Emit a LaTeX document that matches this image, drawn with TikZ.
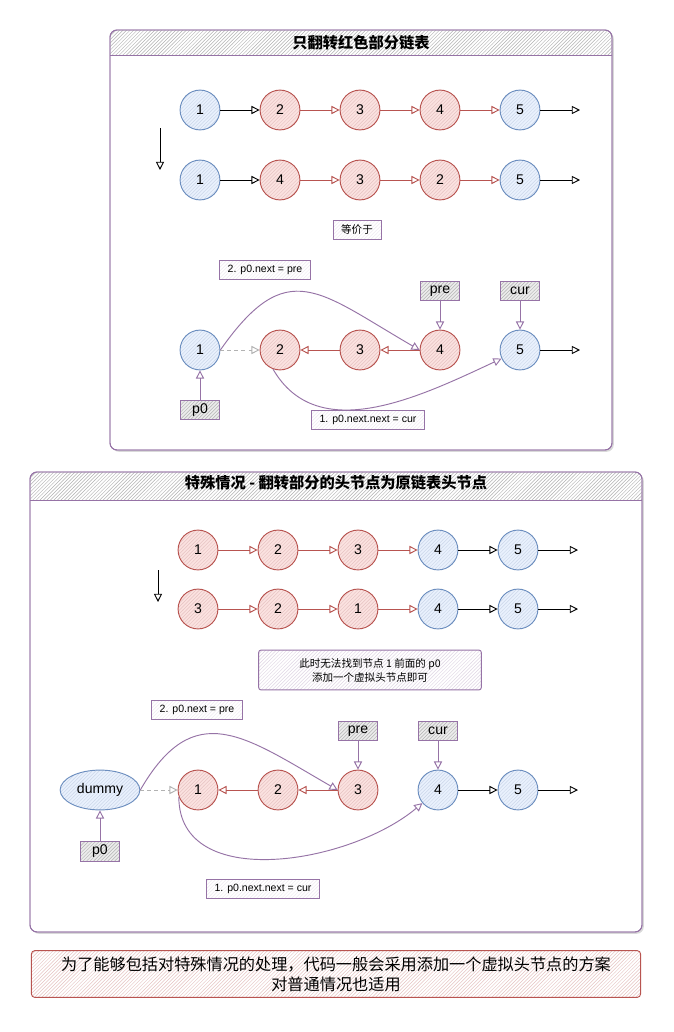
\documentclass[tikz,border=0pt]{standalone}
\usepackage{fontspec}
\setmainfont{Liberation Sans}
\newfontfamily\cjk{Noto Sans CJK SC}
\usetikzlibrary{arrows.meta,patterns,shadows,shapes.geometric}

\definecolor{bluefill}{HTML}{DAE8FC}
\definecolor{blueline}{HTML}{6C8EBF}
\definecolor{redfill}{HTML}{F8CECC}
\definecolor{redline}{HTML}{B85450}
\definecolor{purpleline}{HTML}{9673A6}

\tikzset{
  bnode/.style={circle,thick,draw=blueline,preaction={fill=bluefill!60},minimum size=34pt,inner sep=0pt,
    font=\fontsize{12}{14}\selectfont,pattern=north east lines,pattern color=blueline!35},
  rnode/.style={circle,thick,draw=redline,preaction={fill=redfill!60},minimum size=34pt,inner sep=0pt,
    font=\fontsize{12}{14}\selectfont,pattern=north east lines,pattern color=redline!35},
  tag/.style={rectangle,thick,draw=purpleline,preaction={fill=gray!15},minimum width=33pt,minimum height=17pt,
    inner sep=2pt,font=\fontsize{12}{14}\selectfont,pattern=north east lines,pattern color=gray!60},
  memo/.style={rectangle,thick,draw=purpleline,preaction={fill=white},minimum height=16pt,inner ysep=3pt,
    inner xsep=7pt,font=\fontsize{9}{11}\selectfont,pattern=north east lines,pattern color=purpleline!15},
  panel/.style={thick,draw=purpleline,fill=white,rounded corners=6pt,
    drop shadow={shadow xshift=1.5pt,shadow yshift=-1.5pt,opacity=0.3}},
}

\begin{document}
\begin{tikzpicture}[x=0.03cm,y=-0.03cm,>={Triangle[open,length=7pt,width=7pt]}]
\useasboundingbox (0,0) rectangle (674,1032);

% top panel
\draw[panel] (110,30) rectangle (612,450);
\begin{scope}
  \clip[rounded corners=6pt] (110,30) rectangle (612,450);
  \fill[pattern=north east lines,pattern color=gray!60] (110,30) rectangle (612,55);
\end{scope}
\draw[thick,purpleline,rounded corners=6pt] (110,30) rectangle (612,450);
\draw[thick,purpleline] (110,55) -- (612,55);
\node[font=\cjk\bfseries\fontsize{13}{15}\selectfont] (titlea) at (361,43) {只翻转红色部分链表};

% bottom panel
\draw[panel] (30,472) rectangle (642,932);
\begin{scope}
  \clip[rounded corners=6pt] (30,472) rectangle (642,932);
  \fill[pattern=north east lines,pattern color=gray!60] (30,472) rectangle (642,500);
\end{scope}
\draw[thick,purpleline,rounded corners=6pt] (30,472) rectangle (642,932);
\draw[thick,purpleline] (30,500) -- (642,500);
\node[font=\cjk\bfseries\fontsize{13}{15}\selectfont] (titleb) at (336,483) {特殊情况 - 翻转部分的头节点为原链表头节点};

% top panel, rows
\node[bnode] (a1) at (200,110) {1};
\node[rnode] (a2) at (280,110) {2};
\node[rnode] (a3) at (360,110) {3};
\node[rnode] (a4) at (440,110) {4};
\node[bnode] (a5) at (520,110) {5};
\coordinate (ae) at (580,110);

\node[bnode] (b1) at (200,180) {1};
\node[rnode] (b2) at (280,180) {4};
\node[rnode] (b3) at (360,180) {3};
\node[rnode] (b4) at (440,180) {2};
\node[bnode] (b5) at (520,180) {5};
\coordinate (be) at (580,180);

\coordinate (ua) at (160,128);
\coordinate (ub) at (160,170);

\node[memo,font=\cjk\fontsize{9}{11}\selectfont] (same) at (357,230) {等价于};
\node[memo] (stepa2) at (265,270) {2. p0.next = pre};
\node[tag] (prea) at (440,291) {pre};
\node[tag] (cura) at (520,291) {cur};

\node[bnode] (c1) at (200,350) {1};
\node[rnode] (c2) at (280,350) {2};
\node[rnode] (c3) at (360,350) {3};
\node[rnode] (c4) at (440,350) {4};
\node[bnode] (c5) at (520,350) {5};
\coordinate (ce) at (580,350);

\node[tag] (p0a) at (200,410) {p0};
\node[memo] (stepa1) at (368,420) {1. p0.next.next = cur};

% bottom panel, rows
\node[rnode] (d1) at (198,550) {1};
\node[rnode] (d2) at (278,550) {2};
\node[rnode] (d3) at (358,550) {3};
\node[bnode] (d4) at (438,550) {4};
\node[bnode] (d5) at (518,550) {5};
\coordinate (de) at (578,550);

\node[rnode] (e1) at (198,609) {3};
\node[rnode] (e2) at (278,609) {2};
\node[rnode] (e3) at (358,609) {1};
\node[bnode] (e4) at (438,609) {4};
\node[bnode] (e5) at (518,609) {5};
\coordinate (ee) at (578,609);

\coordinate (va) at (158,570);
\coordinate (vb) at (158,602);

\node[memo,minimum width=190pt,minimum height=34pt,align=center,rounded corners=2pt,
      font=\cjk\fontsize{9}{12}\selectfont,pattern color=purpleline!30]
  (hint) at (370,670) {此时无法找到节点 1 前面的 p0\\添加一个虚拟头节点即可};
\node[memo] (stepb2) at (197,710) {2. p0.next = pre};
\node[tag] (preb) at (358,731) {pre};
\node[tag] (curb) at (438,731) {cur};

\node[ellipse,thick,draw=blueline,preaction={fill=bluefill!60},minimum width=68pt,minimum height=34pt,
      font=\fontsize{12}{14}\selectfont,pattern=north east lines,pattern color=blueline!35]
  (dummy) at (100,790) {dummy};
\node[rnode] (f1) at (198,790) {1};
\node[rnode] (f2) at (278,790) {2};
\node[rnode] (f3) at (358,790) {3};
\node[bnode] (f4) at (438,790) {4};
\node[bnode] (f5) at (518,790) {5};
\coordinate (fe) at (578,790);

\node[tag] (p0b) at (100,851) {p0};
\node[memo] (stepb1) at (263,889) {1. p0.next.next = cur};

% summary
\node[rectangle,thick,draw=redline,preaction={fill=white},rounded corners=3pt,minimum width=520pt,minimum height=40pt,
      align=center,font=\cjk\fontsize{13.8}{17}\selectfont,pattern=north east lines,pattern color=redline!35]
  (summary) at (336,974) {为了能够包括对特殊情况的处理，代码一般会采用添加一个虚拟头节点的方案\\对普通情况也适用};

% connectors
\begin{scope}[every edge/.style={draw,thick}]
    \path [->] (a1) edge (a2) (a5) edge (ae);
    \path [->,redline] (a2) edge (a3) (a3) edge (a4) (a4) edge (a5);
    \path [->] (b1) edge (b2) (b5) edge (be);
    \path [->,redline] (b2) edge (b3) (b3) edge (b4) (b4) edge (b5);
    \path [->] (ua) edge (ub) (va) edge (vb);

    \path [->,gray!60,dashed] (c1) edge (c2);
    \path [->,redline] (c3) edge (c2) (c4) edge (c3);
    \path [->] (c5) edge (ce);
    \path [->,purpleline] (p0a) edge (c1) (prea) edge (c4) (cura) edge (c5);
    \path [->,purpleline] (c1.east) edge[out=55,in=150,looseness=1.5] (c4.west);
    \path [->,purpleline] (c2.250) edge[out=-60,in=205] (c5);

    \path [->,redline] (d1) edge (d2) (d2) edge (d3) (d3) edge (d4);
    \path [->] (d4) edge (d5) (d5) edge (de);
    \path [->,redline] (e1) edge (e2) (e2) edge (e3) (e3) edge (e4);
    \path [->] (e4) edge (e5) (e5) edge (ee);

    \path [->,gray!60,dashed] (dummy) edge (f1);
    \path [->,redline] (f2) edge (f1) (f3) edge (f2);
    \path [->] (f4) edge (f5) (f5) edge (fe);
    \path [->,purpleline] (p0b) edge (dummy) (preb) edge (f3) (curb) edge (f4);
    \path [->,purpleline] (dummy.east) edge[out=60,in=150,looseness=1.4] (f3.west);
    \path [->,purpleline] (f1.200) edge[out=-90,in=220] (f4);
\end{scope}
\end{tikzpicture}
\end{document}
